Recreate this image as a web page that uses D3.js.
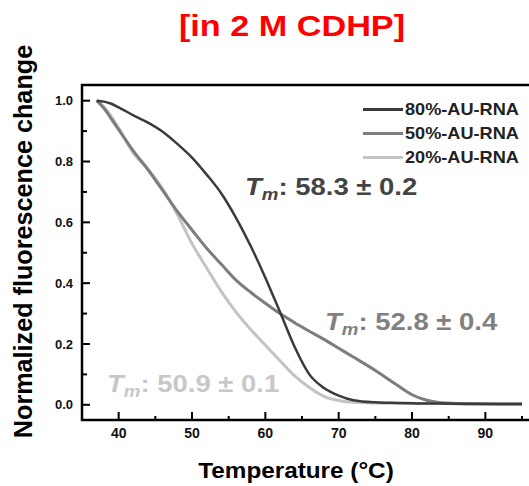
<!DOCTYPE html>
<html>
<head>
<meta charset="utf-8">
<script src="https://cdn.jsdelivr.net/npm/d3@7"></script>
<style>
	body { margin: 0; background: #fff; }
	svg { display: block; font-family: Arial, 'Liberation Sans', sans-serif; font-weight: bold; }
</style>
</head>
<body>
<svg id="chart" width="529" height="486"></svg>
<script>
;(() => {
	'use strict';

	// temperature grid (°C) and values
	const temps = [37, 38, 39, 40, 42, 44, 46, 48, 50, 52, 54, 56, 58, 60, 62, 64, 66, 68, 70, 72, 75, 78, 80, 82, 84, 88, 92, 95];
	const au80 = [1.0, 0.997, 0.99, 0.978, 0.952, 0.928, 0.898, 0.858, 0.813, 0.757, 0.695, 0.615, 0.522, 0.418, 0.305, 0.19, 0.10, 0.055, 0.03, 0.015, 0.008, 0.006, 0.005, 0.004, 0.004, 0.003, 0.003, 0.003];
	const au50 = [1.0, 0.975, 0.94, 0.905, 0.835, 0.773, 0.705, 0.636, 0.575, 0.515, 0.462, 0.41, 0.37, 0.334, 0.30, 0.27, 0.242, 0.215, 0.186, 0.157, 0.113, 0.064, 0.033, 0.015, 0.007, 0.004, 0.003, 0.003];
	const au20 = [1.0, 0.978, 0.948, 0.91, 0.828, 0.775, 0.71, 0.626, 0.53, 0.45, 0.372, 0.305, 0.248, 0.196, 0.145, 0.095, 0.057, 0.028, 0.014, 0.008, 0.006, 0.005, 0.005, 0.004, 0.004, 0.003, 0.003, 0.003];

	const seriesNames = ['80%-AU-RNA', '50%-AU-RNA', '20%-AU-RNA'];
	const tmLabels = ['58.3 ± 0.2', '52.8 ± 0.4', '50.9 ± 0.1'];
	const xTicks = [40, 50, 60, 70, 80, 90];
	const yTicks = [0, 0.2, 0.4, 0.6, 0.8, 1.0];

	const lineColors = ['#3b3b3b', '#7d7d7d', '#c3c3c3'],
		tmColors = ['#444444', '#808080', '#c8c8c8'];

	const svg = d3.select('#chart');

	const x = d3.scaleLinear().domain([35, 100]).range([82, 558.7]),
		y = d3.scaleLinear().domain([-0.05, 1.05]).range([420, 85.5]);

	// text that is a bit wider than the font draws it
	const wideText = function(px, py, sx) {
		return svg.append('text')
			.attr('transform', `translate(${px},${py}) scale(${sx},1)`);
	};

	// title
	wideText(292, 36, 1.18)
		.attr('text-anchor', 'middle')
		.attr('fill', '#ff0000')
		.style('font-size', '29px')
		.text('[in 2 M CDHP]');

	// minor ticks
	const minorX = d3.range(45, 100, 10),
		minorY = d3.range(0.1, 1.0, 0.2);

	svg.selectAll('.mx').data(minorX).enter().append('line')
		.attr('x1', d => x(d)).attr('x2', d => x(d))
		.attr('y1', 420).attr('y2', 416)
		.attr('stroke', '#000').attr('stroke-width', 2);
	svg.selectAll('.my').data(minorY).enter().append('line')
		.attr('y1', d => y(d)).attr('y2', d => y(d))
		.attr('x1', 82).attr('x2', 87)
		.attr('stroke', '#000').attr('stroke-width', 2);

	// major ticks + labels
	svg.selectAll('.tx').data(xTicks).enter().append('line')
		.attr('x1', d => x(d)).attr('x2', d => x(d))
		.attr('y1', 420).attr('y2', 412)
		.attr('stroke', '#000').attr('stroke-width', 2);
	svg.selectAll('.tyl').data(yTicks).enter().append('line')
		.attr('y1', d => y(d)).attr('y2', d => y(d))
		.attr('x1', 82).attr('x2', 90)
		.attr('stroke', '#000').attr('stroke-width', 2);

	svg.selectAll('.xl').data(xTicks).enter().append('text')
		.attr('x', d => x(d)).attr('y', 438)
		.attr('text-anchor', 'middle')
		.style('font-size', '14px')
		.attr('fill', '#111')
		.text(d => d);
	svg.selectAll('.yl').data(yTicks).enter().append('text')
		.attr('x', 73).attr('y', d => y(d)).attr('dy', '0.36em')
		.attr('text-anchor', 'end')
		.style('font-size', '13px')
		.attr('fill', '#111')
		.text(d => d.toFixed(1));

	// frame
	svg.append('path')
		.attr('d', 'M529,85 H82 V420 H529')
		.attr('fill', 'none')
		.attr('stroke', '#000')
		.attr('stroke-width', 2.5);

	// curves
	const line = d3.line()
		.x((d, i) => x(temps[i]))
		.y(d => y(d))
		.curve(d3.curveMonotoneX);

	[au20, au50, au80].forEach((vals, k) => {
		const idx = 2 - k;
		svg.append('path')
			.attr('d', line(vals))
			.attr('fill', 'none')
			.attr('stroke', lineColors[idx])
			.attr('stroke-width', idx === 0 ? 2.5 : 3);
	});

	// legend
	seriesNames.forEach((name, i) => {
		const ly = 109.5 + i * 24;
		svg.append('line')
			.attr('x1', 363).attr('x2', 403)
			.attr('y1', ly).attr('y2', ly)
			.attr('stroke', lineColors[i]).attr('stroke-width', 3);
		wideText(405, ly + 5, 1.1)
			.style('font-size', '16.5px')
			.attr('fill', '#222')
			.text(name);
	});

	// Tm annotations
	const tmPos = [[245, 195], [325, 330], [107, 392]];
	tmLabels.forEach((lbl, i) => {
		const t = wideText(tmPos[i][0], tmPos[i][1], 1.17)
			.attr('fill', tmColors[i])
			.style('font-size', '23.5px');
		t.append('tspan').style('font-style', 'italic').text('T');
		t.append('tspan').style('font-style', 'italic').style('font-size', '16px').attr('dy', 5).text('m');
		t.append('tspan').attr('dy', -5).text(': ' + lbl);
	});

	// axis titles
	wideText(296, 478, 1.08)
		.attr('text-anchor', 'middle')
		.style('font-size', '22.5px')
		.text('Temperature (°C)');
	svg.append('text')
		.attr('transform', 'translate(32,241.5) rotate(-90)')
		.attr('text-anchor', 'middle')
		.style('font-size', '25.2px')
		.text('Normalized fluorescence change');
})();
</script>
</body>
</html>
